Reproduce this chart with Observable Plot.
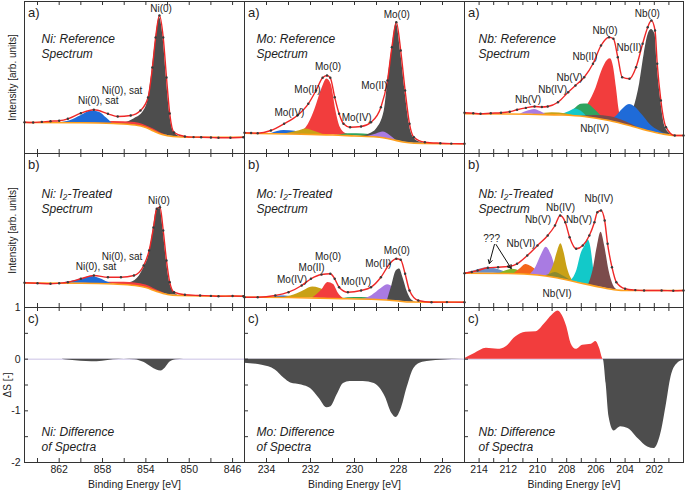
<!DOCTYPE html>
<html><head><meta charset="utf-8">
<script src="https://cdn.jsdelivr.net/npm/d3@7"></script>
<script src="https://cdn.jsdelivr.net/npm/@observablehq/plot@0.6"></script>
<style>
body{margin:0;background:#fff;}
#fig{position:relative;width:685px;height:491px;overflow:hidden;background:#fff;}
#fig svg{position:absolute;overflow:visible;}
</style></head><body><div id="fig"></div>
<script>
// ---------- DATA (binding energy [eV], intensity [arb. units]) ----------
// Ni reference
const niA_env = [[865.2,31.3],[864.4,31.0],[863.6,31.6],[862.8,32.3],[862,32.8],[861.2,34.7],[860,40.3],[858.8,43.7],[857.5,39.7],[856.6,37],[855.4,38],[854.5,43],[853.8,56],[853.4,86],[853.1,116],[852.75,138],[852.4,116],[852.1,76],[851.8,40],[851.4,21],[850.4,17],[849.6,16.4],[848.9,16.3],[848,16.0],[847.3,15.7],[846.2,15.8],[845,16.3]];
const niA_bg = [[865.2,31],[860,30.8],[857,30],[855,28.5],[854,26],[853.3,22.5],[852.5,19],[851.5,17],[850,16.3],[845,16.3]];
const niA_gray = [[857,0],[856,1.5],[855.1,6],[854.2,16],[853.8,29],[853.4,62],[853.1,92],[852.75,116],[852.4,96],[852.1,56],[851.8,22],[851.4,4],[850.8,0]];
const niA_red = [[861,0],[859,1],[857,2],[855,2.5],[853.5,2],[852.5,1],[852,0]];
const niA_blue = [[862,0],[861,2],[860,7],[859,12],[858.3,11],[857.6,5],[857.1,0]];
const niA_labels = [[852.6,144.7,"Ni(0)"],[856.2,62.3,"Ni(0), sat"],[858.4,53,"Ni(0), sat"]];
// Ni I2-treated
const niB_env = [[865.2,24.7],[864,24.2],[862.8,23.7],[862,24.3],[861.2,25.3],[860,28.7],[858.8,32],[857.5,30.3],[856.3,30.3],[855.1,32],[854.2,42],[853.7,57],[853.3,80],[853.0,98.7],[852.7,100.3],[852.4,77],[852.1,47],[851.8,25.3],[851.4,15.3],[850.4,12.7],[849,12],[848,11.6],[847.3,11.3],[846,11.5],[845,11.3]];
const niB_bg = [[865.2,24.5],[860,24.3],[857,23.5],[855,22],[854,20],[853,16],[852,13],[851,12],[845,11.3]];
const niB_gray = [[857,0],[856,1],[855,5],[854.2,19],[853.7,35],[853.3,62],[853,82],[852.7,84],[852.4,62],[852.1,33],[851.8,12],[851.4,3],[851,0]];
const niB_red = [[860,0],[858,1.5],[856,2.5],[854,2.5],[853,1.5],[852,0]];
const niB_blue = [[862,0],[861,1.5],[860,4],[859,7],[858.2,5],[857.5,1.5],[857,0]];
const niB_labels = [[852.8,107,"Ni(0)"],[856.2,50.3,"Ni(0), sat"],[858.6,40.3,"Ni(0), sat"]];
// Ni difference
const niC = [[865.2,0],[862,0],[861,-0.02],[860,-0.04],[859,-0.05],[858,-0.04],[857,-0.01],[856,0],[855,-0.01],[854.2,-0.06],[853.5,-0.15],[853,-0.21],[852.6,-0.23],[852.2,-0.17],[851.8,-0.06],[851.2,-0.01],[850.5,0],[844.9,0]];

// Mo reference
const moA_env = [[235,20.7],[234.7,20.5],[234.4,20.3],[233.8,23],[233.2,29.7],[232.6,38],[232.1,49.7],[231.75,63],[231.45,75.7],[231.25,78],[231.1,75.7],[230.9,56.3],[230.7,39.7],[230.5,29.7],[230.2,26.3],[229.7,27],[229.25,31.3],[228.8,46.3],[228.5,73],[228.3,106.3],[228.1,131.3],[227.9,103],[227.7,63],[227.5,29.7],[227.3,16.3],[226.8,11.3],[226.1,10.3],[225.6,9.9],[225,9.7]];
const moA_bg = [[235,20.3],[233,19.5],[232,19],[231,18.5],[230,17.5],[229,16.5],[228.3,14],[227.8,11.5],[227.3,10.3],[225,9.7]];
const moA_blue = [[233.8,0],[233.2,3.5],[232.7,3],[232.4,0]];
const moA_olive = [[233.2,0],[232.6,3],[232.2,5.5],[231.8,3],[231.4,0]];
const moA_red = [[233,0],[232.5,2],[232.1,10],[231.8,25],[231.5,45],[231.25,56],[231.05,50],[230.85,25],[230.65,8],[230.4,2],[230,0]];
const moA_green = [[230.8,0],[230.2,2],[229.6,2.5],[229,1.5],[228.6,0]];
const moA_purple = [[229.4,0],[229,3],[228.7,6],[228.4,4],[228.1,0]];
const moA_gray = [[229.7,0],[229.3,3],[229,8],[228.65,27],[228.45,65],[228.3,90],[228.1,117],[227.9,89],[227.7,50],[227.5,17],[227.3,5],[227,1],[226.7,0]];
const moA_labels = [[231.2,86.3,"Mo(0)"],[232.14,63.7,"Mo(II)"],[232.96,40.3,"Mo(IV)"],[229.9,35.7,"Mo(IV)"],[229.1,68,"Mo(II)"],[228.08,139,"Mo(0)"]];
// Mo I2-treated
const moB_env = [[235,10.3],[234.4,10.3],[233.6,12],[233,15.3],[232.4,22],[231.98,28.7],[231.5,33],[231.1,33.7],[230.9,28.7],[230.7,20.3],[230.3,15.3],[229.7,17],[229.25,20.3],[228.8,30.3],[228.4,43.7],[228.1,48.7],[227.9,47.7],[227.7,33.7],[227.5,17],[227.1,7],[226.5,5.3],[225.8,5.4],[225,5.3]];
const moB_bg = [[235,10.3],[233,10],[231,9],[229,8],[228,6.5],[227.5,5.5],[225,5.3]];
const moB_blue = [[233.8,0],[233.2,1.5],[232.6,0]];
const moB_olive = [[233.2,0],[232.6,4],[232.2,8.5],[231.9,11],[231.6,10],[231.2,6],[230.8,2],[230.4,0]];
const moB_red = [[231.9,0],[231.5,8],[231.2,16],[230.95,14],[230.75,6],[230.5,0]];
const moB_green = [[230.6,0],[230,1.5],[229.4,1.5],[229,0]];
const moB_purple = [[229.6,0],[229.2,4],[228.8,11],[228.5,15.5],[228.2,13],[227.9,8],[227.6,3],[227.3,0]];
const moB_gray = [[228.5,0],[228.3,15],[228.1,30],[227.95,32],[227.8,24],[227.6,10],[227.4,2],[227.2,0]];
const moB_labels = [[231.2,51,"Mo(0)"],[231.95,39.7,"Mo(II)"],[232.84,27.7,"Mo(IV)"],[229.93,25.3,"Mo(IV)"],[228.92,43.7,"Mo(II)"],[228.08,57,"Mo(0)"]];
// Mo difference
const moC = [[235,-0.08],[234.2,-0.12],[233.6,-0.21],[233.2,-0.37],[232.9,-0.46],[232.4,-0.5],[232,-0.57],[231.6,-0.76],[231.25,-0.94],[231.07,-0.92],[230.8,-0.7],[230.5,-0.47],[230.2,-0.43],[229.6,-0.43],[229.1,-0.47],[228.6,-0.73],[228.3,-1.05],[228.1,-1.13],[227.9,-0.99],[227.6,-0.54],[227.3,-0.18],[226.9,-0.06],[226.1,-0.02],[225,0]];

// Nb reference
const nbA_env = [[215,40.7],[214.4,40.2],[213.9,39.7],[213.2,40.3],[212.5,40.7],[211.9,41.8],[211.4,43.7],[210.8,45.6],[210.2,47],[209.7,46.5],[209.3,47],[208.6,51.3],[207.9,61.3],[207.4,68],[206.8,76.3],[206.2,89.7],[205.65,108],[205.1,116.3],[204.8,114.7],[204.5,96.3],[204.2,76.3],[203.7,74.7],[203.25,86.3],[202.8,109.7],[202.45,126.3],[202.2,133],[201.95,123],[201.8,89.7],[201.55,53],[201.2,26.3],[200.6,18],[200,18]];
const nbA_bg = [[215,39.7],[212,39.5],[210,39],[208.4,38.5],[206.8,37],[205.1,33],[203.7,28],[202.5,23],[201.5,19.7],[200.6,18],[200,18]];
const nbA_purple = [[211.2,0],[210.6,3.5],[210.2,5],[209.8,3],[209.4,0]];
const nbA_olive = [[210,0],[209,2],[208,1.5],[207.4,0]];
const nbA_cyan = [[208.4,0],[207.8,4],[207.4,7],[207,5],[206.6,0]];
const nbA_green = [[208.2,0],[207.6,5],[207,12],[206.6,13],[206.1,9],[205.6,3],[205.2,0]];
const nbA_brown = [[207,0],[206,3],[205,4],[204,3],[203,0]];
const nbA_red = [[207.6,0],[207,4],[206.5,14],[206,30],[205.6,48],[205.2,60],[205,62],[204.8,55],[204.6,35],[204.4,12],[204.2,2],[204,0]];
const nbA_blue = [[205.2,0],[204.6,6],[204.2,14],[203.7,21],[203.3,20],[202.8,14],[202.3,7],[201.8,3],[201.4,1],[201,0]];
const nbA_gray = [[204.2,0],[203.8,8],[203.4,19],[203,45],[202.7,75],[202.45,95],[202.2,102],[201.95,98],[201.8,67],[201.55,32],[201.3,9],[201,2],[200.7,0]];
const nbA_labels = [[202.48,139.7,"Nb(0)"],[203.73,105.7,"Nb(II)"],[205.38,122.3,"Nb(0)"],[206.75,96.3,"Nb(II)"],[207.8,75.7,"Nb(V)"],[208.96,63.7,"Nb(IV)"],[210.65,53.7,"Nb(V)"],[206.08,24.7,"Nb(IV)"]];
// Nb I2-treated
const nbB_env = [[215,34.3],[214.5,35.5],[214.1,37],[213.4,39.7],[212.7,40.3],[212,41],[211.4,43.7],[210.7,52],[210,62],[209.3,72],[208.8,82],[208.45,92],[208.1,85.3],[207.8,70.3],[207.35,58.7],[206.9,62],[206.45,72],[206.1,85.3],[205.9,95.3],[205.65,97],[205.4,87],[205.2,63.7],[204.9,40.3],[204.6,25.3],[204,18.7],[203.3,17.4],[202.7,17],[201.5,17],[200.7,16.8],[200,17]];
const nbB_bg = [[215,34.3],[212,34],[210,32.5],[208.8,30],[207.3,25.3],[205.7,20.3],[204.6,17.5],[204,17],[200,17]];
const nbB_steel = [[215,0],[214.3,2.5],[213.4,5.5],[212.7,4],[212.2,1.5],[211.8,0]];
const nbB_ygreen = [[212.6,0],[212.1,3],[211.7,4.5],[211.2,3],[210.7,0]];
const nbB_orange = [[211.6,0],[211.2,5],[210.8,10],[210.4,8],[210,4],[209.5,1],[209.2,0]];
const nbB_purple = [[210.5,0],[210.1,8],[209.75,20],[209.4,29],[209.05,22],[208.75,10],[208.5,3],[208.3,0]];
const nbB_gold = [[209.3,0],[208.9,12],[208.6,28],[208.4,35],[208.2,28],[207.95,12],[207.7,3],[207.5,0]];
const nbB_dolive = [[209.5,0],[209.1,3],[208.8,5],[208.3,3.5],[207.8,1],[207.5,0]];
const nbB_cyan = [[207.7,0],[207.3,12],[207,30],[206.75,38],[206.55,45],[206.35,38],[206.2,22],[206.05,5],[205.95,0]];
const nbB_brown = [[206.5,0],[206.2,15],[205.9,40],[205.65,55],[205.4,42],[205.1,18],[204.8,4],[204.5,0]];
const nbB_labels = [[205.79,108.7,"Nb(IV)"],[207.16,87.7,"Nb(V)"],[208.42,99.7,"Nb(IV)"],[209.97,87.7,"Nb(V)"],[211.13,63.7,"Nb(VI)"],[213.14,68.7,"???"],[208.66,13.7,"Nb(VI)"]];
const nbB_arrows = [[212.95,63,213.3,44],[212.84,63,211.8,39]];
// Nb difference
const nbC = [[215,0.01],[214.3,0.11],[213.5,0.21],[212.7,0.19],[212.15,0.24],[211.5,0.43],[210.8,0.52],[210.1,0.53],[209.5,0.69],[209,0.85],[208.6,0.93],[208.4,0.89],[208,0.63],[207.7,0.3],[207.35,0.19],[206.9,0.27],[206.3,0.29],[206,0.34],[205.75,0.21],[205.5,0],[205.3,-0.47],[205.1,-1.12],[204.75,-1.39],[204.3,-1.31],[203.8,-1.34],[203.1,-1.54],[202.45,-1.7],[202,-1.73],[201.55,-1.44],[201.2,-0.92],[200.85,-0.34],[200.4,-0.08],[200,-0.02]];

// axis ticks
const niTicks = [864,862,860,858,856,854,852,850,848,846];
const niTickLabels = [862,858,854,850,846];
const moTicks = [234,233,232,231,230,229,228,227,226];
const moTickLabels = [234,232,230,228,226];
const nbTicks = [214,213,212,211,210,209,208,207,206,205,204,203,202,201];
const nbTickLabels = [214,212,210,208,206,204,202];
const diffTicks = [0.5,0,-0.5,-1,-1.5];
const diffTickLabels = [1,0,-1,-2];

// ---------- STYLE / LAYOUT ----------
const FONT = '"Liberation Sans", Arial, Helvetica, sans-serif';
const INK = "#222";
const COL = {gray:"#4d4d4d", red:"#f23d3d", blue:"#1f6bd8", olive:"#c9a116", green:"#2fa35f", purple:"#a97be2", cyan:"#12c9c9", brown:"#7b4b4b", orange:"#f4661b", ygreen:"#84b62a", steel:"#6b8ec6", dolive:"#8c8a2e", bgline:"#ffa01c", env:"#ee2727", zero:"#dcd6ee"};
const cols = [
  {left:0, width:244, ml:24, mr:0, xdom:[865.2,844.9], ticks:niTicks, tl:niTickLabels, tdx:17},
  {left:244, width:220, ml:0, mr:0, xdom:[235,225], ticks:moTicks, tl:moTickLabels, tdx:12},
  {left:464, width:221, ml:0, mr:2, xdom:[215,200], ticks:nbTicks, tl:nbTickLabels, tdx:14}
];
const rows = [
  {top:0, h:153, mt:1, mb:0, ydom:[0,152], tag:"a)", tdy:43.8},
  {top:153, h:154, mt:0, mb:0, ydom:[0,154], tag:"b)", tdy:46.8},
  {top:307, h:184, mt:0, mb:29, ydom:[-2,1], tag:"c)", tdy:130.8}
];
const fig = document.getElementById("fig");

function place(svg, c, r) {
  svg.style.left = c.left + "px";
  svg.style.top = r.top + "px";
  fig.appendChild(svg);
}

function commonMarks(c, r, title, ci) {
  const pw = c.width - c.ml - c.mr, ph = r.h - r.mt - r.mb;
  const m = [
    Plot.frame({stroke:"#333", strokeWidth:1}),
    Plot.ruleX(c.ticks, {insetTop: ph - 4, stroke:"#333"}),
    Plot.ruleX(c.ticks, {insetBottom: ph - 4, stroke:"#333"}),
    Plot.text([r.tag], {frameAnchor:"top-left", dx:3.5, dy:11.7, textAnchor:"start", lineAnchor:"middle", fontSize:13, fill:INK}),
    Plot.text([title], {frameAnchor:"top-left", dx:c.tdx, dy:r.tdy, textAnchor:"start", lineAnchor:"middle", fontStyle:"italic", fontSize:12, lineHeight:1.25, fill:INK})
  ];
  if (ci === 0 && r.tag !== "c)") {
    m.push(Plot.text(["Intensity [arb. units]"], {frameAnchor:"left", dx:-11.5, rotate:-90, textAnchor:"middle", lineAnchor:"middle", fontSize:10, fill:INK}));
  }
  return {marks:m, pw, ph};
}

function spectrum(ci, ri, title, bg, env, comps, labels, arrows) {
  const c = cols[ci], r = rows[ri];
  const bgScale = d3.scaleLinear().domain(bg.map(d => d[0])).range(bg.map(d => d[1]));
  const base = commonMarks(c, r, title, ci);
  const marks = [];
  for (const [data, color] of comps) {
    marks.push(Plot.areaY(data, {x: d => d[0], y1: d => bgScale(d[0]), y2: d => bgScale(d[0]) + d[1], fill: color, curve: "monotone-x"}));
  }
  marks.push(Plot.line(bg, {x: d => d[0], y: d => d[1], stroke: COL.bgline, strokeWidth: 1.6, curve: "monotone-x"}));
  marks.push(Plot.line(env, {x: d => d[0], y: d => d[1], stroke: COL.env, strokeWidth: 1.4, curve: "monotone-x"}));
  marks.push(Plot.dot(env, {x: d => d[0], y: d => d[1], r: 1.2, fill: "#3a3a3a"}));
  marks.push(Plot.text(labels, {x: d => d[0], y: d => d[1], text: d => d[2], fontSize: 10, fill: INK}));
  if (arrows) marks.push(Plot.arrow(arrows, {x1: d => d[0], y1: d => d[1], x2: d => d[2], y2: d => d[3], stroke: "#111", strokeWidth: 1, headLength: 6}));
  const svg = Plot.plot({
    width: c.width, height: r.h,
    marginLeft: c.ml, marginRight: c.mr, marginTop: r.mt, marginBottom: r.mb,
    x: {domain: c.xdom, axis: null}, y: {domain: r.ydom, axis: null},
    style: {fontFamily: FONT, background: "none", overflow: "visible"},
    marks: [...marks, ...base.marks]
  });
  place(svg, c, r);
}

function difference(ci, title, data) {
  const c = cols[ci], r = rows[2];
  const base = commonMarks(c, r, title, ci);
  const marks = [
    Plot.ruleY([0], {stroke: COL.zero, strokeWidth: 1.5}),
    Plot.areaY(data, {x: d => d[0], y1: 0, y2: d => Math.min(0, d[1]), fill: COL.gray, curve: "monotone-x"}),
    Plot.areaY(data, {x: d => d[0], y1: 0, y2: d => Math.max(0, d[1]), fill: COL.red, curve: "monotone-x"}),
    Plot.ruleY(diffTicks, {insetRight: base.pw - 4, stroke: "#333"}),
    Plot.text(c.tl, {x: d => d, frameAnchor: "bottom", lineAnchor: "middle", dy: 7.5, fontSize: 10.5, fill: INK}),
    Plot.text(["Binding Energy [eV]"], {frameAnchor: "bottom", lineAnchor: "middle", dy: 22.5, fontSize: 10.5, fill: INK})
  ];
  if (ci === 0) {
    marks.push(Plot.text(diffTickLabels, {y: d => d, frameAnchor: "left", dx: -4, textAnchor: "end", lineAnchor: "middle", fontSize: 10.5, fill: INK}));
    marks.push(Plot.text(["ΔS [-]"], {frameAnchor: "left", dx: -16.5, rotate: -90, textAnchor: "middle", lineAnchor: "middle", fontSize: 10, fill: INK}));
  }
  const svg = Plot.plot({
    width: c.width, height: r.h,
    marginLeft: c.ml, marginRight: c.mr, marginTop: r.mt, marginBottom: r.mb,
    x: {domain: c.xdom, axis: null}, y: {domain: r.ydom, axis: null},
    style: {fontFamily: FONT, background: "none", overflow: "visible"},
    marks: [...marks, ...base.marks]
  });
  place(svg, c, r);
}

// Ni column
spectrum(0, 0, "Ni: Reference\nSpectrum", niA_bg, niA_env,
  [[niA_gray, COL.gray], [niA_red, COL.red], [niA_blue, COL.blue]], niA_labels);
spectrum(0, 1, "Ni: I₂-Treated\nSpectrum", niB_bg, niB_env,
  [[niB_gray, COL.gray], [niB_red, COL.red], [niB_blue, COL.blue]], niB_labels);
difference(0, "Ni: Difference\nof Spectra", niC);
// Mo column
spectrum(1, 0, "Mo: Reference\nSpectrum", moA_bg, moA_env,
  [[moA_red, COL.red], [moA_blue, COL.blue], [moA_olive, COL.olive], [moA_green, COL.green], [moA_gray, COL.gray], [moA_purple, COL.purple]], moA_labels);
spectrum(1, 1, "Mo: I₂-Treated\nSpectrum", moB_bg, moB_env,
  [[moB_blue, COL.blue], [moB_olive, COL.olive], [moB_red, COL.red], [moB_green, COL.green], [moB_purple, COL.purple], [moB_gray, COL.gray]], moB_labels);
difference(1, "Mo: Difference\nof Spectra", moC);
// Nb column
spectrum(2, 0, "Nb: Reference\nSpectrum", nbA_bg, nbA_env,
  [[nbA_gray, COL.gray], [nbA_red, COL.red], [nbA_green, COL.green], [nbA_cyan, COL.cyan], [nbA_blue, COL.blue], [nbA_brown, COL.brown], [nbA_olive, COL.olive], [nbA_purple, COL.purple]], nbA_labels);
spectrum(2, 1, "Nb: I₂-Treated\nSpectrum", nbB_bg, nbB_env,
  [[nbB_steel, COL.steel], [nbB_ygreen, COL.ygreen], [nbB_orange, COL.orange], [nbB_purple, COL.purple], [nbB_gold, COL.olive], [nbB_dolive, COL.dolive], [nbB_cyan, COL.cyan], [nbB_brown, COL.brown]], nbB_labels, nbB_arrows);
difference(2, "Nb: Difference\nof Spectra", nbC);
</script></body></html>
